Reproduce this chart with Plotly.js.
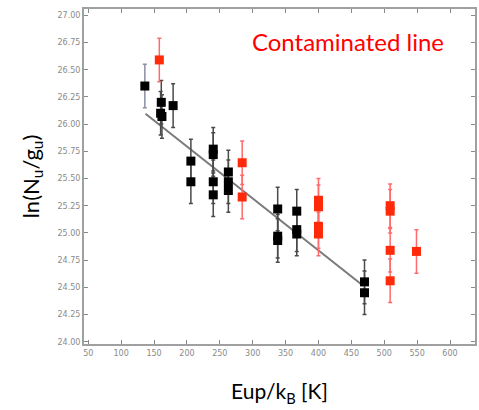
<!DOCTYPE html>
<html>
<head>
<meta charset="utf-8">
<script src="https://cdn.plot.ly/plotly-3.0.1.min.js"></script>
<style>
  html, body { margin: 0; padding: 0; background: #fff; }
  #chart { width: 479px; height: 410px; }
</style>
</head>
<body>
<div id="chart"></div>
<script>
// Rotation-diagram points: upper-level energy (K) vs ln(Nu/gu)
const firstX = [136];
const firstY = [26.35];
const firstErr = [0.2];

const cleanX = [161, 160, 162, 179, 206, 206, 240, 240, 240, 240, 263, 263, 263,
                338, 338, 338, 367, 367, 367, 470, 470];
const cleanY = [26.20, 26.10, 26.07, 26.17, 25.66, 25.47, 25.77, 25.72, 25.47, 25.35,
                25.56, 25.47, 25.39, 25.22, 24.97, 24.93, 25.20, 25.03, 24.99, 24.55, 24.45];
const cleanErr = [0.2, 0.2, 0.2, 0.2, 0.2, 0.2, 0.2, 0.2, 0.2, 0.2, 0.2, 0.2, 0.2,
                  0.2, 0.2, 0.2, 0.2, 0.2, 0.2, 0.2, 0.2];

// Lines blended with other transitions
const blendX = [158, 284, 284, 400, 400, 400, 400, 509, 509, 509, 509, 549];
const blendY = [26.59, 25.645, 25.33, 25.30, 25.24, 25.06, 24.99, 25.25, 25.20, 24.84, 24.56, 24.83];
const blendErr = [0.2, 0.2, 0.2, 0.2, 0.2, 0.2, 0.2, 0.2, 0.2, 0.2, 0.2, 0.2];

// Linear fit through the clean lines
const fitX = [137, 468];
const fitY = [26.095, 24.515];

const xTicks = [50, 100, 150, 200, 250, 300, 350, 400, 450, 500, 550, 600];
const yTicks = [24.00, 24.25, 24.50, 24.75, 25.00, 25.25, 25.50, 25.75, 26.00, 26.25, 26.50, 26.75, 27.00];

function errs(arr, color) {
  return { type: 'data', array: arr, visible: true, color: color, thickness: 1.5, width: 2 };
}

const traces = [
  {
    x: fitX, y: fitY, mode: 'lines', type: 'scatter',
    line: { color: '#7a7a7a', width: 2 }, hoverinfo: 'skip'
  },
  {
    x: firstX, y: firstY, mode: 'markers', type: 'scatter',
    marker: { symbol: 'square', size: 9, color: '#000' },
    error_y: errs(firstErr, '#8a90a6')
  },
  {
    x: cleanX, y: cleanY, mode: 'markers', type: 'scatter',
    marker: { symbol: 'square', size: 9, color: '#000' },
    error_y: errs(cleanErr, '#4a4a4a')
  },
  {
    x: blendX, y: blendY, mode: 'markers', type: 'scatter',
    marker: { symbol: 'square', size: 9, color: '#ff2a0a' },
    error_y: errs(blendErr, '#ff6a6a')
  }
];

const axisCommon = {
  showline: true, mirror: 'ticks', linecolor: '#a0a0a0', linewidth: 2,
  ticks: 'inside', ticklen: 4, tickcolor: '#8a8a8a', tickwidth: 1,
  showgrid: false, zeroline: false,
  tickfont: { family: 'DejaVu Sans', size: 8, color: '#8a8a8a' }
};

const layout = {
  width: 479, height: 410,
  margin: { l: 84, r: 4, t: 9, b: 66 },
  paper_bgcolor: '#fff', plot_bgcolor: '#fff',
  showlegend: false,
  title: {
    text: 'Contaminated line',
    font: { family: 'Lato', size: 24, color: '#ff0000' },
    x: 0.7265, xanchor: 'center', xref: 'container',
    y: 0.897, yanchor: 'middle', yref: 'container'
  },
  xaxis: Object.assign({}, axisCommon, {
    range: [43.5, 638], tickvals: xTicks, ticktext: xTicks.map(String),
    title: { text: 'Eup/k<sub>B</sub> [K]', font: { family: 'Lato', size: 21, color: '#000' }, standoff: 28 }
  }),
  yaxis: Object.assign({}, axisCommon, {
    range: [23.979, 27.058], tickvals: yTicks, ticktext: yTicks.map(v => v.toFixed(2)),
    title: { text: 'ln(N<sub>u</sub>/g<sub>u</sub>)', font: { family: 'Lato', size: 22, color: '#000' }, standoff: 12 }
  })
};

Plotly.newPlot('chart', traces, layout, { displayModeBar: false, staticPlot: true });
</script>
</body>
</html>
